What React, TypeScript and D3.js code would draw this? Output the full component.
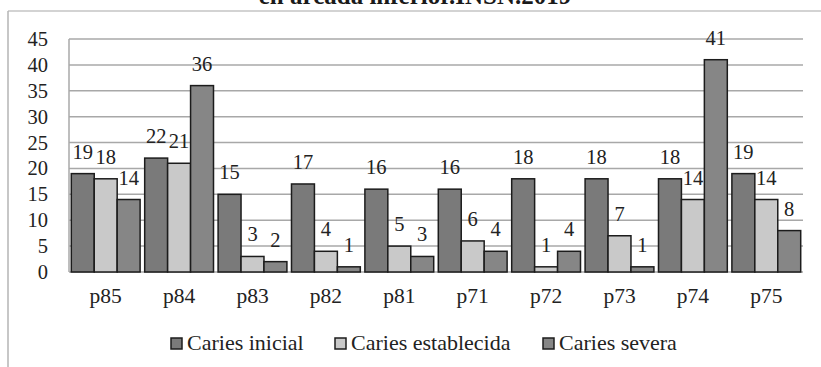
import React from "react";
import * as d3 from "d3";

// Teeth and counts per caries severity
const categories = ["p85", "p84", "p83", "p82", "p81", "p71", "p72", "p73", "p74", "p75"];
const seriesNames = ["Caries inicial", "Caries establecida", "Caries severa"];
const cariesInicial = [19, 22, 15, 17, 16, 16, 18, 18, 18, 19];
const cariesEstablecida = [18, 21, 3, 4, 5, 6, 1, 7, 14, 14];
const cariesSevera = [14, 36, 2, 1, 3, 4, 4, 1, 41, 8];
const yTicks = [0, 5, 10, 15, 20, 25, 30, 35, 40, 45];
const titleText = "en arcada inferior.INSN.2019";

const W = 821;
const H = 367;
const plot = { left: 69, right: 803, top: 39, bottom: 272 };
const colors = ["#7a7a7a", "#c9c9c9", "#868686"];
const font = "'Liberation Serif', 'Times New Roman', serif";

export default function App() {
  const series = [cariesInicial, cariesEstablecida, cariesSevera];

  const x = d3.scaleBand<string>().domain(categories).range([plot.left, plot.right]).paddingInner(0).paddingOuter(0);
  const inner = d3
    .scaleBand<number>()
    .domain(d3.range(series.length))
    .range([0, x.bandwidth()])
    .paddingOuter(0.1)
    .paddingInner(0);
  const y = d3.scaleLinear().domain([0, 45]).range([plot.bottom, plot.top]);

  const legendItems = [
    { name: seriesNames[0], x: 171 },
    { name: seriesNames[1], x: 335 },
    { name: seriesNames[2], x: 543 },
  ];

  const textStyle = { fontFamily: font };

  return (
    <svg
      width={W}
      height={H}
      style={{ position: "absolute", left: 0, top: 0, background: "#fff", fontFamily: font }}
    >
      <rect x={0} y={0} width={W} height={H} fill="#fff" />
      {/* title, mostly above the frame */}
      <text x={415} y={4} textAnchor="middle" fontSize={25} fontWeight="bold" fill="#1a1a1a" style={textStyle}>
        {titleText}
      </text>
      {/* chart frame */}
      <line x1={8} y1={11} x2={W} y2={11} stroke="#c4c4c4" strokeWidth={1.5} />
      <line x1={8} y1={11} x2={8} y2={H} stroke="#b4b4b4" strokeWidth={1.5} />

      {/* gridlines */}
      {yTicks.map((t) => (
        <line
          key={t}
          x1={plot.left}
          x2={plot.right}
          y1={y(t)}
          y2={y(t)}
          stroke="#a8a8a8"
          strokeWidth={1.5}
        />
      ))}
      <line x1={plot.left} x2={plot.left} y1={plot.top} y2={plot.bottom} stroke="#a8a8a8" strokeWidth={1.5} />

      {/* y tick labels */}
      {yTicks.map((t) => (
        <text
          key={t}
          x={48}
          y={y(t)}
          dy="0.34em"
          textAnchor="end"
          fontSize={20.5}
          fill="#222"
          style={textStyle}
        >
          {t}
        </text>
      ))}

      {/* bars */}
      {categories.map((c, i) => (
        <g key={c} transform={`translate(${x(c)},0)`}>
          {series.map((vals, s) => (
            <rect
              key={s}
              x={inner(s)}
              y={y(vals[i])}
              width={inner.bandwidth()}
              height={y(0) - y(vals[i])}
              fill={colors[s]}
              stroke="#1c1c1c"
              strokeWidth={1.5}
            />
          ))}
        </g>
      ))}

      {/* value labels */}
      {categories.map((c, i) =>
        series.map((vals, s) => (
          <text
            key={c + s}
            x={(x(c) as number) + (inner(s) as number) + inner.bandwidth() / 2}
            y={y(vals[i]) - 15}
            textAnchor="middle"
            fontSize={20.5}
            fill="#222"
            style={textStyle}
          >
            {vals[i]}
          </text>
        ))
      )}

      {/* category labels */}
      {categories.map((c) => (
        <text
          key={c}
          x={(x(c) as number) + x.bandwidth() / 2}
          y={303}
          textAnchor="middle"
          fontSize={21.5}
          fill="#222"
          style={textStyle}
        >
          {c}
        </text>
      ))}

      {/* legend */}
      {legendItems.map((it, s) => (
        <g key={it.name}>
          <rect x={it.x} y={338} width={11} height={11} fill={colors[s]} stroke="#1c1c1c" strokeWidth={1.5} />
          <text x={it.x + 16} y={349.5} fontSize={22} fill="#222" style={textStyle}>
            {it.name}
          </text>
        </g>
      ))}
    </svg>
  );
}
